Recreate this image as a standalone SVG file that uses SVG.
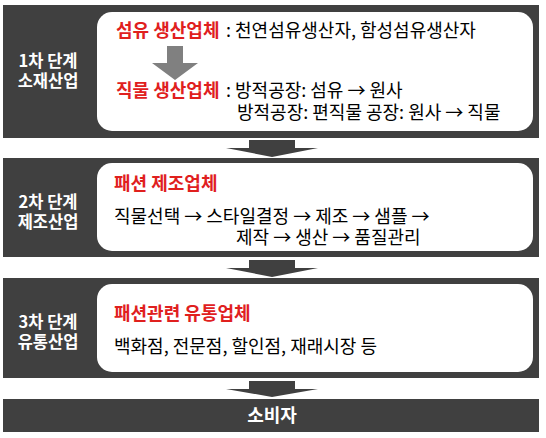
<svg xmlns="http://www.w3.org/2000/svg" width="546" height="438" viewBox="0 0 546 438">
<style>
text{font-family:"Noto Sans CJK KR","Noto Sans",sans-serif;}
.band{fill:#404040;}
.box{fill:#ffffff;}
.lbl{fill:#ffffff;font-size:16.5px;font-weight:bold;text-anchor:middle;}
.red{fill:#e0201e;font-size:18px;font-weight:bold;}
.txt{fill:#000000;font-size:18px;}
.dark{fill:#404040;}
.gray{fill:#808080;}
</style>
<rect width="546" height="438" fill="#ffffff"/>
<g id="stage1">
<rect class="band" x="3" y="5" width="536" height="133"/>
<rect class="box" x="97" y="12" width="436" height="119" rx="15"/>
<text class="lbl"><tspan x="48" y="67">1차 단계</tspan><tspan x="48" y="87">소재산업</tspan></text>
<text class="red" x="116" y="37">섬유 생산업체</text>
<text class="txt" x="226" y="37">: 천연섬유생산자, 함성섬유생산자</text>
<text class="red" x="116" y="97">직물 생산업체</text>
<text class="txt" x="226" y="97">: 방적공장: 섬유 → 원사</text>
<text class="txt" x="237" y="119">방적공장: 편직물 공장: 원사 → 직물</text>
</g>
<g id="stage2">
<rect class="band" x="3" y="158" width="536" height="99"/>
<rect class="box" x="97" y="163" width="436" height="88" rx="15"/>
<text class="lbl"><tspan x="48" y="208">2차 단계</tspan><tspan x="48" y="228">제조산업</tspan></text>
<text class="red" x="114" y="190">패션 제조업체</text>
<text class="txt" x="114" y="223">직물선택 → 스타일결정 → 제조 → 샘플 →</text>
<text class="txt" x="236" y="244">제작 → 생산 → 품질관리</text>
</g>
<g id="stage3">
<rect class="band" x="3" y="278" width="536" height="100"/>
<rect class="box" x="97" y="284" width="436" height="88" rx="15"/>
<text class="lbl"><tspan x="48" y="328">3차 단계</tspan><tspan x="48" y="348">유통산업</tspan></text>
<text class="red" x="114" y="320">패션관련 유통업체</text>
<text class="txt" x="114" y="353">백화점, 전문점, 할인점, 재래시장 등</text>
</g>
<g id="consumer">
<rect class="band" x="3" y="399" width="536" height="33"/>
<text class="lbl" x="272" y="422" style="font-size:18px">소비자</text>
</g>
<g id="connectors">
<path class="gray" d="M167,46 H183 V63 H198 L175,80 L152,63 H167 Z"/>
<path class="dark" d="M249,140 H295 V148 H318 L272,157 L226,148 H249 Z"/>
<path class="dark" d="M249,260 H295 V268 H318 L272,277 L226,268 H249 Z"/>
<path class="dark" d="M249,381 H295 V389 H318 L272,397 L226,389 H249 Z"/>
</g>
</svg>
